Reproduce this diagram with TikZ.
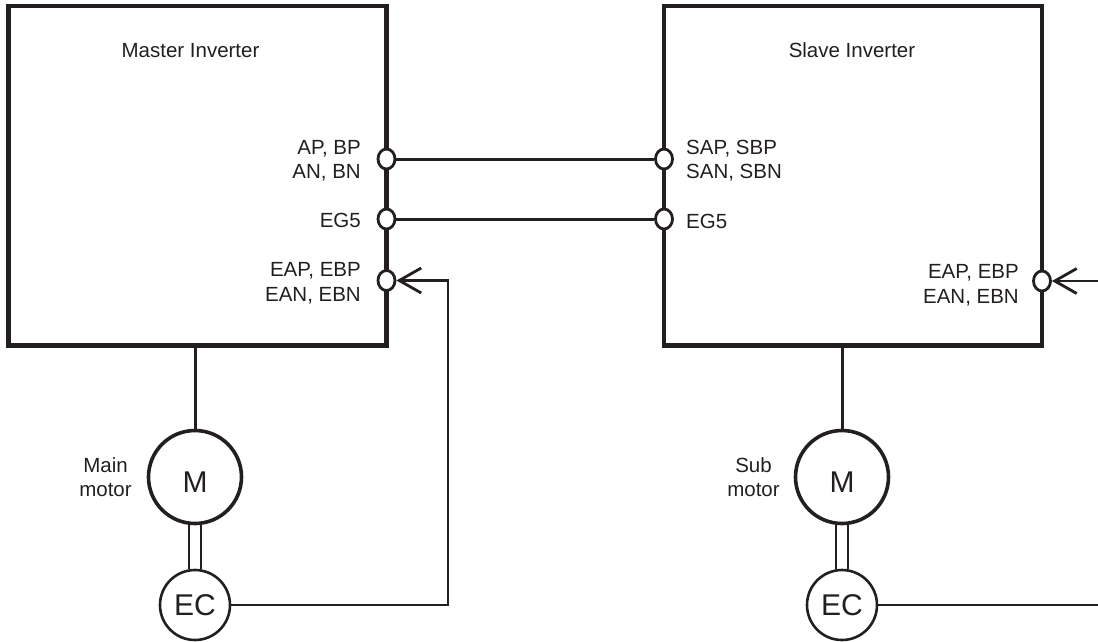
\documentclass[tikz,border=0pt]{standalone}
\usepackage{fontspec}
\setmainfont{Liberation Sans}
\usetikzlibrary{shapes.geometric,arrows.meta}
\definecolor{ink}{HTML}{231F20}
\begin{document}
\begin{tikzpicture}[x=1pt,y=-1pt,
  every node/.style={text=ink, font=\fontsize{20.5}{24.6}\selectfont},
  unit/.style={draw=ink, line width=4.2pt, minimum width=378pt, minimum height=339.5pt, inner sep=0pt},
  port/.style={ellipse, draw=ink, fill=white, line width=2.8pt, minimum width=17pt, minimum height=20pt, inner sep=0pt},
  wire/.style={draw=ink, line width=3pt},
  shaft/.style={draw=ink, line width=2.6pt},
  motor/.style={circle, draw=ink, line width=3.6pt, minimum size=93pt, inner sep=0pt, font=\fontsize{30}{36}\selectfont, text height=30pt, text depth=0pt},
  enc/.style={circle, draw=ink, line width=2.6pt, minimum size=70pt, inner sep=0pt, font=\fontsize{30}{36}\selectfont},
  fb/.style={draw=ink, line width=2.8pt},
  tip/.style={-{Straight Barb[length=22pt,width=25pt]}},
  lbl/.style={inner sep=0pt}
]
\useasboundingbox (0,0) rectangle (1098,641);

% inverters
\node[unit] (master) at (197.5,175.75) {};
\node[unit] (slave) at (853,175.75) {};
\node[lbl, anchor=base] (mtitle) at (190.5,57.3) {Master Inverter};
\node[lbl, anchor=base] (stitle) at (852,57.3) {Slave Inverter};

% ports
\node[port] (mAB) at (386.5,159) {};
\node[port] (mEG) at (386.5,219) {};
\node[port] (mEA) at (386.5,280.5) {};
\node[port] (sAB) at (664,159) {};
\node[port] (sEG) at (664,219) {};
\node[port] (sEA) at (1042,281) {};

% port labels
\node[lbl, align=right, anchor=east] (mABl) at (361,160.7) {AP, BP\\AN, BN};
\node[lbl, anchor=base east] (mEGl) at (361,227) {EG5};
\node[lbl, align=right, anchor=east] (mEAl) at (361,283.2) {EAP, EBP\\EAN, EBN};
\node[lbl, align=left, anchor=west] (sABl) at (686,160.5) {SAP, SBP\\SAN, SBN};
\node[lbl, anchor=base west] (sEGl) at (686,228) {EG5};
\node[lbl, align=right, anchor=east] (sEAl) at (1019,285.5) {EAP, EBP\\EAN, EBN};

% motors and encoders
\node[motor] (mM) at (195,477) {M};
\node[motor] (sM) at (842,477) {M};
\node[enc] (mE) at (195,605) {EC};
\node[enc] (sE) at (842,605) {EC};
\node[lbl, align=center] (mML) at (105.5,477) {Main\\motor};
\node[lbl, align=center] (sML) at (753.5,477) {Sub\\motor};

% links between inverters
\draw[wire] (mAB.east) -- (sAB.west);
\draw[wire] (mEG.east) -- (sEG.west);

% inverter to motor
\draw[wire] (mM.north) -- (mM.north |- master.south);
\draw[wire] (sM.north) -- (sM.north |- slave.south);

% shafts
\draw[shaft] ([xshift=-6pt]mM.south) -- ([xshift=-6pt]mE.north);
\draw[shaft] ([xshift=6pt]mM.south) -- ([xshift=6pt]mE.north);
\draw[shaft] ([xshift=-6pt]sM.south) -- ([xshift=-6pt]sE.north);
\draw[shaft] ([xshift=6pt]sM.south) -- ([xshift=6pt]sE.north);

% encoder feedback
\coordinate (mBend) at (448,0);
\draw[fb, tip] (mE.east) -| (mBend |- mEA.east) -- (mEA.east);
\coordinate (sIn) at (1098,281);
\coordinate (sOut) at (1098,605);
\draw[fb, tip] (sIn) -- (sEA.east);
\draw[fb] (sE.east) -- (sOut);
\end{tikzpicture}
\end{document}
